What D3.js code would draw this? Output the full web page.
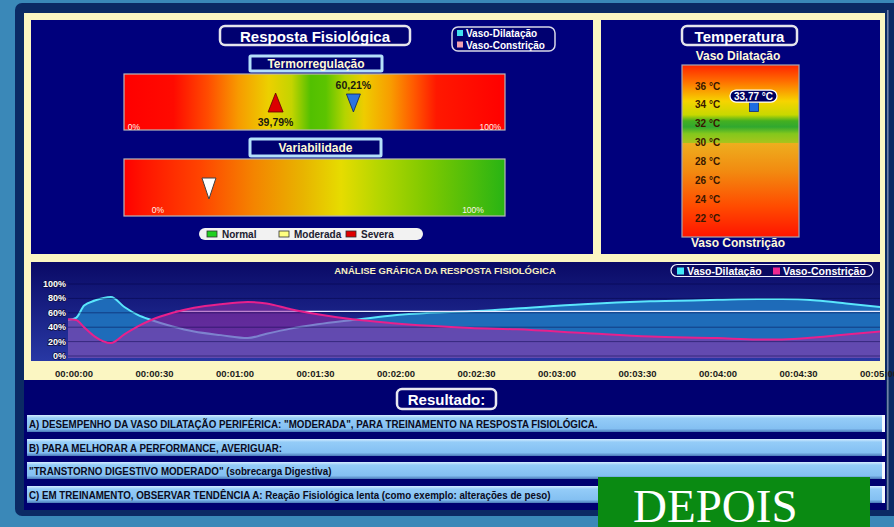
<!DOCTYPE html>
<html><head><meta charset="utf-8">
<script src="https://cdn.jsdelivr.net/npm/d3@7"></script>
<style>
html,body{margin:0;padding:0;background:#3a88b8;overflow:hidden}
svg{display:block}
text{font-family:"Liberation Sans Narrow","Arial Narrow","Liberation Sans",Arial,sans-serif;font-weight:bold}
</style></head><body>
<svg id="c" width="894" height="527"></svg>
<script>
// ---------------- DATA ----------------
const termoValues = [39.79, 60.21];            // [vaso-constrição (red ▲), vaso-dilatação (blue ▼)]
const termoLabels = ["39,79%", "60,21%"];
const variabValue = 22.3;
const gradeItems = ["Normal", "Moderada", "Severa"];
const seriesNames = ["Vaso-Dilatação", "Vaso-Constrição"];
const tempTicks = [36, 34, 32, 30, 28, 26, 24, 22];
const tempValue = 33.77;
const tempLabel = "33,77 °C";
const times      = [0, 3, 6, 10, 16, 21, 26, 31, 39, 47, 57, 67, 74, 83, 93, 106, 120, 135, 150, 167, 192, 217, 242, 257, 266, 279, 290, 303];
const dilatacao  = [50, 53, 70, 77, 82, 68, 57, 50, 41, 34, 29, 25, 31, 38, 44, 50, 56, 60, 62, 66, 72, 76, 78, 79, 79, 77, 73, 68];
const constricao = [51, 50, 40, 27, 18, 30, 41, 50, 60, 67, 72, 75, 73, 65, 58, 51, 46, 42, 39, 37, 32, 27, 25, 23, 23, 26, 30, 34];
const refValue = 62, refStart = 40;
const timeTicks  = [0, 30, 60, 90, 120, 150, 180, 210, 240, 270, 300];
const timeLabels = ["00:00:00","00:00:30","00:01:00","00:01:30","00:02:00","00:02:30","00:03:00","00:03:30","00:04:00","00:04:30","00:05:00"];
const pctTicks = [0, 20, 40, 60, 80, 100];
const resultLines = [
  "A) DESEMPENHO DA VASO DILATAÇÃO PERIFÉRICA: \"MODERADA\", PARA TREINAMENTO NA RESPOSTA FISIOLÓGICA.",
  "B) PARA MELHORAR A PERFORMANCE, AVERIGUAR:",
  "\"TRANSTORNO DIGESTIVO MODERADO\" (sobrecarga Digestiva)",
  "C) EM TREINAMENTO, OBSERVAR TENDÊNCIA A: Reação Fisiológica lenta (como exemplo: alterações de peso)"
];
const stampText = "DEPOIS";

// ---------------- DRAW ----------------
const svg = d3.select("#c");
const defs = svg.append("defs");
function lin(id, stops, vertical) {
  const g = defs.append("linearGradient").attr("id", id)
    .attr("x1", 0).attr("y1", 0).attr("x2", vertical ? 0 : 1).attr("y2", vertical ? 1 : 0);
  stops.forEach(s => g.append("stop").attr("offset", s[0] + "%").attr("stop-color", s[1]));
}
lin("gTermo", [[0,"#ff0000"],[13,"#ff0a00"],[22,"#ff4c00"],[30,"#f79a00"],[38,"#ecd000"],[44,"#c4d400"],[49,"#52c000"],[53,"#5cc400"],[58,"#b4d400"],[63,"#eecc00"],[70,"#f89c00"],[76,"#ff5a00"],[82,"#ff1800"],[100,"#ff0000"]]);
lin("gVar", [[0,"#ff0000"],[5,"#ff1400"],[20,"#ff4400"],[34,"#f48400"],[47,"#e8b400"],[57,"#e6dc00"],[67,"#b4d600"],[80,"#7cc800"],[100,"#28b414"]]);
lin("gTemp", [[0,"#ff2400"],[9,"#ff6a00"],[21,"#f6d400"],[29,"#c8d800"],[32.5,"#44b020"],[36,"#30a830"],[40,"#84c81c"],[45.3,"#a8c41c"],[45.4,"#eeae1e"],[62,"#f28a10"],[82,"#ff4c00"],[100,"#ff1400"]], true);
lin("gChart", [[0,"#0a0a66"],[100,"#2838a4"]], true);
lin("gRow", [[0,"#d4ecff"],[18,"#94ccf8"],[80,"#84c0f2"],[100,"#4a78b8"]], true);

// frame
svg.append("rect").attr("width", 894).attr("height", 527).attr("fill", "#3a88b8");
svg.append("rect").attr("x", 15).attr("y", 3).attr("width", 890).attr("height", 513).attr("rx", 7).attr("fill", "#0b2a64");
svg.append("rect").attr("x", 887).attr("y", 10).attr("width", 1.6).attr("height", 500).attr("fill", "#7080a8");
svg.append("rect").attr("x", 24).attr("y", 13).attr("width", 861).attr("height", 367).attr("fill", "#fbf6c2");
svg.append("rect").attr("x", 31).attr("y", 20).attr("width", 562).attr("height", 234).attr("fill", "#00007c");
svg.append("rect").attr("x", 601).attr("y", 20).attr("width", 279).attr("height", 234).attr("fill", "#00007c");
svg.append("rect").attr("x", 24).attr("y", 380).attr("width", 862).attr("height", 130).attr("fill", "#000070");

function titleBox(x, y, w, h, txt, fs, stroke, sw, rx, col) {
  svg.append("rect").attr("x", x).attr("y", y).attr("width", w).attr("height", h).attr("rx", rx)
    .attr("fill", "#000070").attr("stroke", stroke).attr("stroke-width", sw);
  svg.append("text").attr("x", x + w / 2).attr("y", y + h / 2 + 0.5).attr("text-anchor", "middle")
    .attr("dominant-baseline", "central").attr("font-size", fs).attr("fill", col).text(txt);
}

// ---- Resposta Fisiológica panel ----
titleBox(220, 26, 190, 19, "Resposta Fisiológica", 15, "#e4e4ec", 2.5, 5, "#ffffff");
svg.append("rect").attr("x", 452).attr("y", 27).attr("width", 103).attr("height", 24).attr("rx", 6)
  .attr("fill", "#000070").attr("stroke", "#d8d8e8").attr("stroke-width", 1.5);
const topLegCols = ["#40e0f0", "#f0a0b0"];
seriesNames.forEach((n, i) => {
  svg.append("rect").attr("x", 457).attr("y", 30 + i * 11.5).attr("width", 6).attr("height", 6).attr("fill", topLegCols[i]);
  svg.append("text").attr("x", 466).attr("y", 33.5 + i * 11.5).attr("dominant-baseline", "central")
    .attr("font-size", 10).attr("fill", "#ffffff").text(n);
});

const xBar = d3.scaleLinear().domain([0, 100]).range([124, 505]);
titleBox(250, 56, 132, 15, "Termorregulação", 12, "#b4e0fa", 3, 1, "#fff8d4");
svg.append("rect").attr("x", xBar(0)).attr("y", 74).attr("width", xBar(100) - xBar(0)).attr("height", 56)
  .attr("fill", "url(#gTermo)").attr("stroke", "#b8b8b8").attr("stroke-width", 1.2);
function smallLbl(xp, yp, anchor, txt) {
  svg.append("text").attr("x", xp).attr("y", yp).attr("text-anchor", anchor).attr("dominant-baseline", "central")
    .attr("font-size", 8.5).style("font-weight", "normal").attr("fill", "#fff4e8").text(txt);
}
smallLbl(xBar(1), 127, "start", "0%");
smallLbl(xBar(99), 127, "end", "100%");
{
  const cx = xBar(termoValues[0]);
  svg.append("path").attr("d", `M${cx},93 L${cx + 7.5},112 L${cx - 7.5},112 Z`).attr("fill", "#dc0000").attr("stroke", "#600000").attr("stroke-width", 0.8);
  svg.append("text").attr("x", cx).attr("y", 122).attr("text-anchor", "middle").attr("dominant-baseline", "central")
    .attr("font-size", 10.5).attr("fill", "#1a1a10").text(termoLabels[0]);
  const cb = xBar(termoValues[1]);
  svg.append("path").attr("d", `M${cb - 7},94 L${cb + 7},94 L${cb},112 Z`).attr("fill", "#2a74e0").attr("stroke", "#0a2060").attr("stroke-width", 0.8);
  svg.append("text").attr("x", cb).attr("y", 85).attr("text-anchor", "middle").attr("dominant-baseline", "central")
    .attr("font-size", 10.5).attr("fill", "#1a1a10").text(termoLabels[1]);
}

titleBox(250, 139, 131, 17, "Variabilidade", 12, "#b4e0fa", 3, 1, "#fff8d4");
svg.append("rect").attr("x", xBar(0)).attr("y", 159).attr("width", xBar(100) - xBar(0)).attr("height", 57)
  .attr("fill", "url(#gVar)").attr("stroke", "#b8b8b8").attr("stroke-width", 1.2);
smallLbl(158, 210, "middle", "0%");
smallLbl(473, 210, "middle", "100%");
{
  const cw = xBar(variabValue);
  svg.append("path").attr("d", `M${cw - 7},178 L${cw + 7},178 L${cw},199 Z`).attr("fill", "#ffffff").attr("stroke", "#404040").attr("stroke-width", 1);
}
svg.append("rect").attr("x", 199).attr("y", 228).attr("width", 224).attr("height", 12).attr("rx", 6).attr("fill", "#f2f2f2");
const gradeCols = ["#20d020", "#ffff80", "#e00000"];
const gradeX = [207, 279, 346];
gradeItems.forEach((g, i) => {
  svg.append("rect").attr("x", gradeX[i]).attr("y", 231).attr("width", 10).attr("height", 6)
    .attr("fill", gradeCols[i]).attr("stroke", "#303030").attr("stroke-width", 0.8);
  svg.append("text").attr("x", gradeX[i] + 15).attr("y", 234.5).attr("dominant-baseline", "central")
    .attr("font-size", 10).attr("fill", "#202030").text(g);
});

// ---- Temperatura panel ----
titleBox(682, 26, 115, 19, "Temperatura", 15, "#e4e4ec", 2.5, 5, "#ffffff");
svg.append("text").attr("x", 738).attr("y", 56).attr("text-anchor", "middle").attr("dominant-baseline", "central")
  .attr("font-size", 12).attr("fill", "#fff8d8").text("Vaso Dilatação");
svg.append("text").attr("x", 738).attr("y", 243).attr("text-anchor", "middle").attr("dominant-baseline", "central")
  .attr("font-size", 12).attr("fill", "#fff8d8").text("Vaso Constrição");
svg.append("rect").attr("x", 682).attr("y", 65).attr("width", 117).attr("height", 172)
  .attr("fill", "url(#gTemp)").attr("stroke", "#a8a8b0").attr("stroke-width", 1.2);
const yTemp = d3.scaleLinear().domain([22, 36]).range([218, 86]);
tempTicks.forEach(t => {
  svg.append("text").attr("x", 695).attr("y", yTemp(t)).attr("dominant-baseline", "central")
    .attr("font-size", 10).attr("fill", "#3a1800").text(t + " °C");
});
{
  const ty = yTemp(tempValue);
  svg.append("rect").attr("x", 749.5).attr("y", ty - 4.5).attr("width", 9).attr("height", 9)
    .attr("fill", "#1e6ce0").attr("stroke", "#0a2a80").attr("stroke-width", 0.8);
  svg.append("rect").attr("x", 730).attr("y", ty - 17).attr("width", 47).attr("height", 12).attr("rx", 6)
    .attr("fill", "#000060").attr("stroke", "#ffffff").attr("stroke-width", 1.2);
  svg.append("text").attr("x", 753.5).attr("y", ty - 11).attr("text-anchor", "middle").attr("dominant-baseline", "central")
    .attr("font-size", 10).attr("fill", "#ffffff").text(tempLabel);
}

// ---- Time chart ----
const cp = {x0: 31, x1: 880, y0: 262, y1: 361};
svg.append("rect").attr("x", cp.x0).attr("y", cp.y0).attr("width", cp.x1 - cp.x0).attr("height", cp.y1 - cp.y0).attr("fill", "url(#gChart)");
defs.append("clipPath").attr("id", "clipPlot").append("rect").attr("x", 68).attr("y", cp.y0).attr("width", cp.x1 - 68).attr("height", cp.y1 - cp.y0 - 2);
const x = d3.scaleLinear().domain([0, 300]).range([68, 873]);
const y = d3.scaleLinear().domain([0, 100]).range([356, 284]);
const plot = svg.append("g").attr("clip-path", "url(#clipPlot)");
const pts1 = times.map((t, i) => [t, dilatacao[i]]);
const pts2 = times.map((t, i) => [t, constricao[i]]);
const area = d3.area().x(d => x(d[0])).y0(y(0) + 2).y1(d => y(d[1])).curve(d3.curveMonotoneX);
const line = d3.line().x(d => x(d[0])).y(d => y(d[1])).curve(d3.curveMonotoneX);
plot.append("path").attr("d", area(pts1)).attr("fill", "#1f70bc").attr("fill-opacity", 0.95);
plot.append("path").attr("d", line(pts1)).attr("fill", "none").attr("stroke", "#5ae6fc").attr("stroke-width", 2);
plot.append("line").attr("x1", x(refStart)).attr("x2", x(303)).attr("y1", y(refValue)).attr("y2", y(refValue))
  .attr("stroke", "#e8ecff").attr("stroke-width", 1.2);
plot.append("path").attr("d", area(pts2)).attr("fill", "#9a30a8").attr("fill-opacity", 0.55);
plot.selectAll("line.grid").data(pctTicks).join("line").attr("class", "grid")
  .attr("x1", 68).attr("x2", cp.x1).attr("y1", d => y(d)).attr("y2", d => y(d))
  .attr("stroke", "#000040").attr("stroke-opacity", 0.45).attr("stroke-width", 1);
plot.append("path").attr("d", line(pts2)).attr("fill", "none").attr("stroke", "#e8208c").attr("stroke-width", 2);

svg.selectAll("text.yl").data(pctTicks).join("text").attr("class", "yl")
  .attr("x", 66).attr("y", d => y(d)).attr("text-anchor", "end").attr("dominant-baseline", "central")
  .attr("font-size", 9).attr("fill", "#ffffff").attr("stroke", "#101040").attr("stroke-width", 1.5)
  .attr("paint-order", "stroke").text(d => d + "%");
svg.selectAll("text.xl").data(timeTicks).join("text").attr("class", "xl")
  .attr("x", d => x(d) + 6).attr("y", 373).attr("text-anchor", "middle").attr("dominant-baseline", "central")
  .attr("font-size", 9.5).attr("fill", "#1c1c1c").text((d, i) => timeLabels[i]);
svg.append("text").attr("x", 445).attr("y", 270).attr("text-anchor", "middle").attr("dominant-baseline", "central")
  .attr("font-size", 9.5).attr("fill", "#f8f0c0").text("ANÁLISE GRÁFICA DA RESPOSTA FISIOLÓGICA");
svg.append("rect").attr("x", 671).attr("y", 264.5).attr("width", 202).attr("height", 12).attr("rx", 6)
  .attr("fill", "#0a0a60").attr("stroke", "#f0f0ff").attr("stroke-width", 1.2);
const chartCols = ["#40e8f8", "#f02890"];
const legX = [677, 773];
seriesNames.forEach((n, i) => {
  svg.append("rect").attr("x", legX[i]).attr("y", 267.5).attr("width", 7).attr("height", 7).attr("fill", chartCols[i]);
  svg.append("text").attr("x", legX[i] + 10).attr("y", 271).attr("dominant-baseline", "central")
    .attr("font-size", 10.5).attr("fill", "#ffffff").text(n);
});

// ---- Resultado ----
titleBox(397, 389, 99, 20, "Resultado:", 15, "#e8e8f0", 2.5, 5, "#ffffff");
const rowY = [415, 439, 462, 486];
resultLines.forEach((t, i) => {
  svg.append("rect").attr("x", 27).attr("y", rowY[i]).attr("width", 858).attr("height", 17).attr("fill", "url(#gRow)");
  svg.append("rect").attr("x", 882).attr("y", rowY[i]).attr("width", 3).attr("height", 17).attr("fill", "#f4f8ff");
  svg.append("text").attr("transform", `translate(29,${rowY[i] + 9}) scale(0.85,1)`).attr("dominant-baseline", "central")
    .attr("font-size", 11.5).attr("fill", "#0a0a20").text(t);
});

// ---- stamp ----
svg.append("rect").attr("x", 598).attr("y", 477).attr("width", 272).attr("height", 60).attr("fill", "#0a8a12");
svg.append("text").attr("x", 633).attr("y", 522)
  .style("font-family", "'Liberation Serif','Times New Roman',serif").style("font-weight", "normal")
  .attr("font-size", 47).attr("fill", "#ffffff").text(stampText);
</script></body></html>
